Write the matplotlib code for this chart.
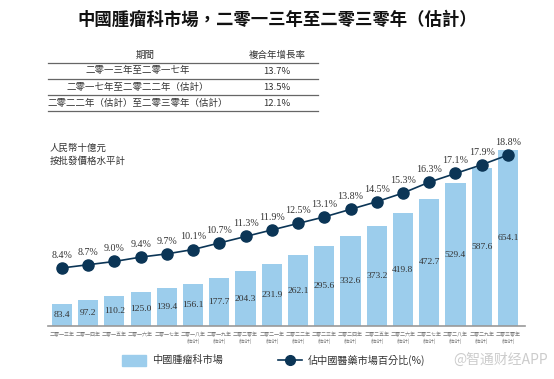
import matplotlib.pyplot as plt
import numpy as np

plt.rcParams['font.family'] = ['Noto Sans CJK TC', 'DejaVu Sans']

digits = ['零', '一', '二', '三', '四', '五', '六', '七', '八', '九']
years = list(range(2013, 2031))
market = [83.4, 97.2, 110.2, 125.0, 139.4, 156.1, 177.7, 204.3, 231.9,
          262.1, 295.6, 332.6, 373.2, 419.8, 472.7, 529.4, 587.6, 654.1]
share = [8.4, 8.7, 9.0, 9.4, 9.7, 10.1, 10.7, 11.3, 11.9,
         12.5, 13.1, 13.8, 14.5, 15.3, 16.3, 17.1, 17.9, 18.8]

periods = ['二零一三年至二零一七年', '二零一七年至二零二二年（估計）',
           '二零二二年（估計）至二零三零年（估計）']
cagr = ['13.7%', '13.5%', '12.1%']


def year_label(y):
    s = ''.join(digits[int(c)] for c in str(y)) + '年'
    if y >= 2018:
        s += '\n(估計)'
    return s


tick_labels = [year_label(y) for y in years]

bar_color = '#9ccdec'
line_color = '#0b3556'
text_color = '#333333'

W, H = 554, 379
def fx(px):
    return px / W
def fy(py):
    return 1 - py / H

fig = plt.figure(figsize=(5.54, 3.79), dpi=100)

# title
fig.text(0.5, fy(20), '中國腫瘤科市場，二零一三年至二零三零年（估計）',
         ha='center', va='center', fontsize=12.5, fontweight='bold', color='#111111')

# CAGR table
fig.text(fx(145), fy(55), '期間', ha='center', va='center', fontsize=6.8, color=text_color)
fig.text(fx(277), fy(55), '複合年增長率', ha='center', va='center', fontsize=6.8, color=text_color)
for yline in [63, 79, 95, 111]:
    fig.add_artist(plt.Line2D([fx(48), fx(318)], [fy(yline), fy(yline)],
                              color='#666666', lw=0.9))
for i, (p, c) in enumerate(zip(periods, cagr)):
    yc = 71 + i * 16
    fig.text(fx(138), fy(yc), p, ha='center', va='center', fontsize=6.8, color=text_color)
    fig.text(fx(277), fy(yc), c, ha='center', va='center', fontsize=6.8, color=text_color)

# chart
ax = fig.add_axes([fx(48), fy(326), fx(525) - fx(48), fy(140) - fy(326)])
x = np.arange(len(years))
ax.bar(x, market, width=0.77, color=bar_color, zorder=1)
for xi, v in zip(x, market):
    ax.text(xi, v / 2, f'{v:.1f}', ha='center', va='center', fontsize=6.8,
            color=text_color, family=['Liberation Serif', 'DejaVu Serif'], zorder=3)
ax.set_xlim(-0.53, 17.65)
ax.set_ylim(0, 691)
ax.set_yticks([])
for s in ['top', 'right', 'left']:
    ax.spines[s].set_visible(False)
ax.spines['bottom'].set_color('#999999')
ax.spines['bottom'].set_linewidth(1.2)
ax.set_xticks(x)
ax.set_xticklabels(tick_labels, fontsize=3.6, color='#777777', linespacing=1.4)
ax.tick_params(axis='x', length=0, pad=4)

ax2 = ax.twinx()
ax2.plot(x, share, color=line_color, lw=1.2, marker='o', markersize=8, zorder=4)
for xi, v in zip(x, share):
    ax2.text(xi, v + 0.75, f'{v:.1f}%', ha='center', va='bottom', fontsize=7.2,
             color=text_color, family=['Liberation Serif', 'DejaVu Serif'])
ax2.set_ylim(3.06, 20.18)
ax2.set_yticks([])
for s in ['top', 'right', 'left', 'bottom']:
    ax2.spines[s].set_visible(False)

fig.text(fx(50), fy(155), '人民幣十億元\n按批發價格水平計', ha='left', va='center',
         fontsize=6.8, color=text_color, linespacing=1.5, style='italic')

# legend
fig.add_artist(plt.Rectangle((fx(122), fy(366)), fx(146) - fx(122), fy(355) - fy(366),
                             color=bar_color))
fig.text(fx(152), fy(360), '中國腫瘤科市場', ha='left', va='center', fontsize=7.3, color=text_color)
fig.add_artist(plt.Line2D([fx(278), fx(302)], [fy(360), fy(360)], color=line_color, lw=1.2))
fig.add_artist(plt.Line2D([fx(290)], [fy(360)], color=line_color, marker='o', markersize=7, lw=0))
fig.text(fx(308), fy(360), '佔中國醫藥市場百分比(%)', ha='left', va='center', fontsize=7.3, color=text_color)

fig.text(fx(548), fy(360), '@智通财经APP', ha='right', va='center', fontsize=10,
         color='#cccccc', family=['Noto Sans CJK SC', 'DejaVu Sans'])

plt.savefig('out.png', dpi=100)
